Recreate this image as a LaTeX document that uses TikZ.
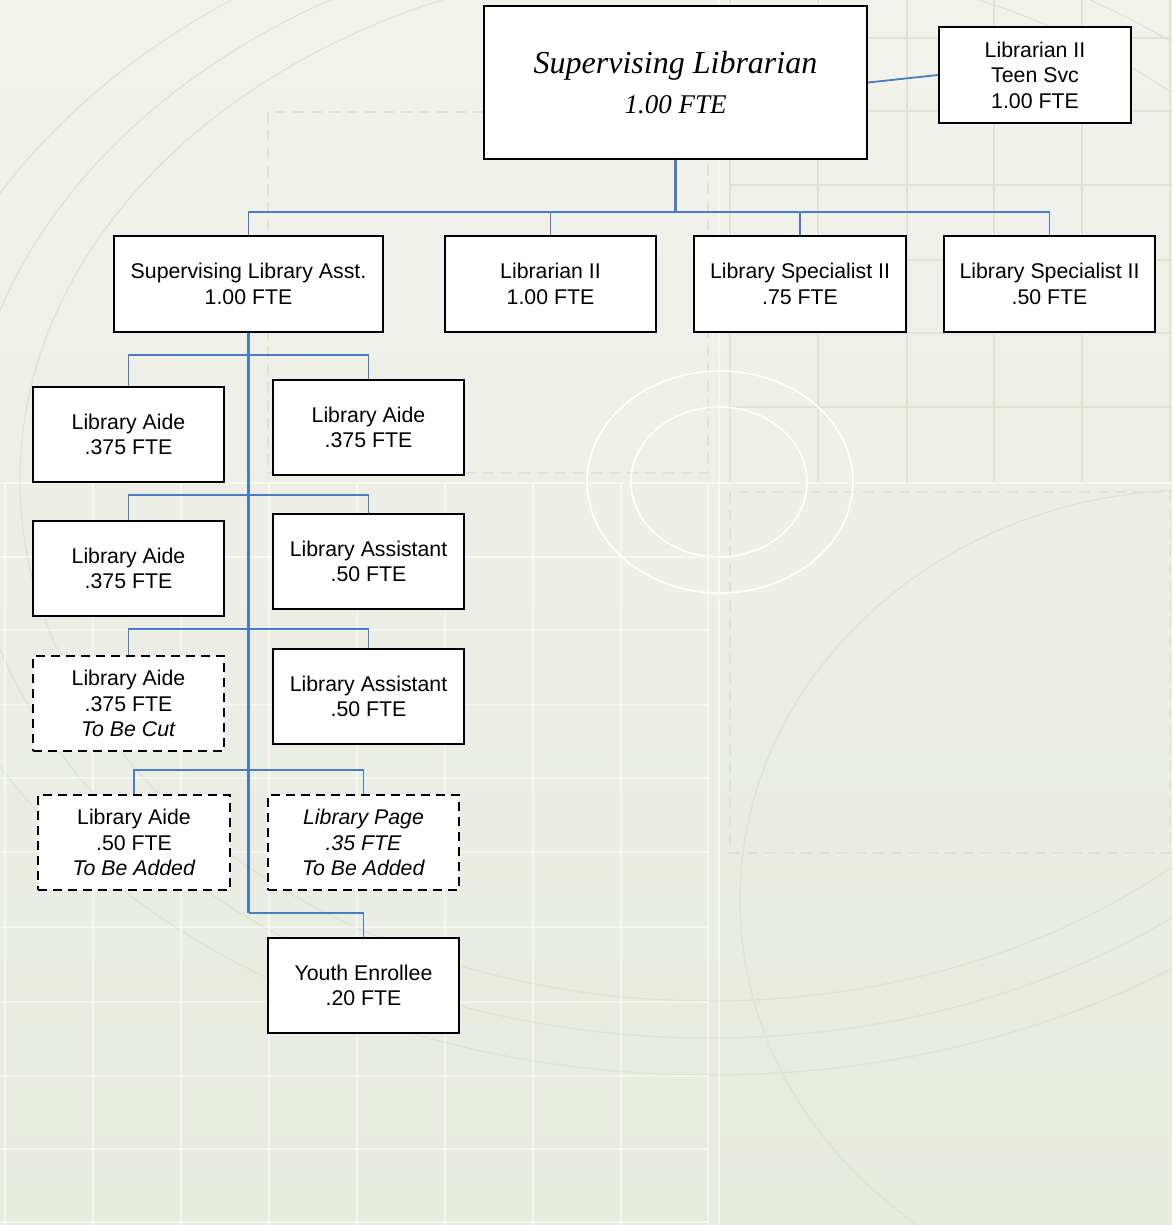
\documentclass[tikz,border=0pt]{standalone}
\usepackage{fontspec}
\setmainfont{Liberation Sans}
\newfontfamily\titlefont{Liberation Serif}
\definecolor{linkblue}{HTML}{4A7CC6}
\definecolor{bgtop}{HTML}{F1F2EC}
\definecolor{bgbottom}{HTML}{E8EBE0}
\definecolor{bgline}{HTML}{DCE5D3}
\begin{document}
\begin{tikzpicture}[x=1pt,y=-1pt,
  box/.style={draw=black, line width=2pt, fill=white, align=center, inner sep=0pt,
              font=\fontsize{21.3}{25.5}\selectfont},
  cutbox/.style={box, dash pattern=on 9pt off 6pt},
  sz/.style 2 args={minimum width=#1pt, minimum height=#2pt},
  conn/.style={draw=linkblue, line width=1.8pt},
  trunk/.style={draw=linkblue, line width=2.6pt},
  gridline/.style={draw=bgline, line width=1.4pt},
  whiteline/.style={draw=white, line width=1.4pt, opacity=0.5},
  dashline/.style={draw=bgline, line width=1.6pt, dash pattern=on 11pt off 7pt},
  arcline/.style={draw=bgline, line width=1.3pt},
]
\useasboundingbox (0,0) rectangle (1172,1225);

% ---------- background ----------
\begin{scope}
\clip (0,0) rectangle (1172,1225);
\shade[top color=bgtop, bottom color=bgbottom] (0,0) rectangle (1172,1225);
% large faint arcs
\draw[arcline] (710,480) ellipse [x radius=690, y radius=521];
\draw[arcline] (710,480) ellipse [x radius=745, y radius=558];
\draw[arcline] (710,480) ellipse [x radius=810, y radius=595];
\draw[arcline] (1195,900) ellipse [x radius=455, y radius=410];
% lower-left white grid
\foreach \gx in {5,93,181,269,357,445,533,621} \draw[whiteline] (\gx,483) -- (\gx,1225);
\foreach \gy in {557,630,705,778,852,927,1002,1076,1149,1222} \draw[whiteline] (0,\gy) -- (708,\gy);
% upper-right green grid
\foreach \gx in {730,818,907,994,1082,1170} \draw[gridline] (\gx,0) -- (\gx,482);
\foreach \gy in {38,111,185,260,333,407} \draw[gridline] (730,\gy) -- (1172,\gy);
% dividing white lines
\draw[whiteline] (0,483) -- (1172,483);
\draw[whiteline] (708,483) -- (708,1225);
\draw[whiteline] (719,0) -- (719,1225);
% dashed frames
\draw[dashline] (268,112) rectangle (708,473);
\draw[dashline] (730,492) rectangle (1170,853);
% white rings
\draw[draw=white, line width=1.6pt] (720,482) ellipse [x radius=133, y radius=111];
\draw[draw=white, line width=1.6pt] (719,482) ellipse [x radius=88, y radius=75];
\end{scope}

% ---------- chart boxes ----------
\node[box, sz={383}{153}, font=\titlefont\itshape\fontsize{32}{40}\selectfont] (top) at (675.5,82.5)
  {Supervising Librarian\\{\fontsize{27}{40}\selectfont 1.00 FTE}};
\node[box, sz={192}{96}] (teen) at (1035,75) {Librarian II\\Teen Svc\\1.00 FTE};

\node[box, sz={269}{96}] (sla)  at (248.5,284) {Supervising Library Asst.\\1.00 FTE};
\node[box, sz={211}{96}] (lib2) at (550.5,284) {Librarian II\\1.00 FTE};
\node[box, sz={212}{96}] (ls75) at (800,284)   {Library Specialist II\\.75 FTE};
\node[box, sz={211}{96}] (ls50) at (1049.5,284) {Library Specialist II\\.50 FTE};

\node[box, sz={191}{95}] (aide1) at (128.5,434.5) {Library Aide\\.375 FTE};
\node[box, sz={191}{95}] (aide2) at (368.5,427.5) {Library Aide\\.375 FTE};
\node[box, sz={191}{95}] (aide3) at (128.5,568.5) {Library Aide\\.375 FTE};
\node[box, sz={191}{95}] (asst1) at (368.5,561.5) {Library Assistant\\.50 FTE};
\node[cutbox, sz={191}{95}] (aide4) at (128.5,703.5) {Library Aide\\.375 FTE\\\textit{To Be Cut}};
\node[box, sz={191}{95}] (asst2) at (368.5,696.5) {Library Assistant\\.50 FTE};
\node[cutbox, sz={192}{95}] (aide5) at (134,842.5) {Library Aide\\.50 FTE\\\textit{To Be Added}};
\node[cutbox, sz={191}{95}] (page) at (363.5,842.5) {\textit{Library Page}\\\textit{.35 FTE}\\\textit{To Be Added}};
\node[box, sz={191}{95}] (youth) at (363.5,985.5) {Youth Enrollee\\.20 FTE};

% ---------- connectors ----------
\coordinate (b0) at (675.5,212);
\draw[conn] (top.east) -- (teen.west);
\draw[trunk] (top.south) -- (b0);
\foreach \n in {sla,lib2,ls75,ls50} \draw[conn] (b0) -| (\n.north);

\coordinate (r1) at (248.5,355);
\coordinate (r2) at (248.5,495);
\coordinate (r3) at (248.5,629);
\coordinate (r4) at (248.5,770);
\coordinate (r5) at (248.5,913);
\draw[conn] (r1) -| (aide1.north);
\draw[conn] (r1) -| (aide2.north);
\draw[conn] (r2) -| (aide3.north);
\draw[conn] (r2) -| (asst1.north);
\draw[conn] (r3) -| (aide4.north);
\draw[conn] (r3) -| (asst2.north);
\draw[conn] (r4) -| (aide5.north);
\draw[conn] (r4) -| (page.north);
\draw[conn] (r5) -| (youth.north);
\draw[trunk] (sla.south) -- (r5);
\end{tikzpicture}
\end{document}
